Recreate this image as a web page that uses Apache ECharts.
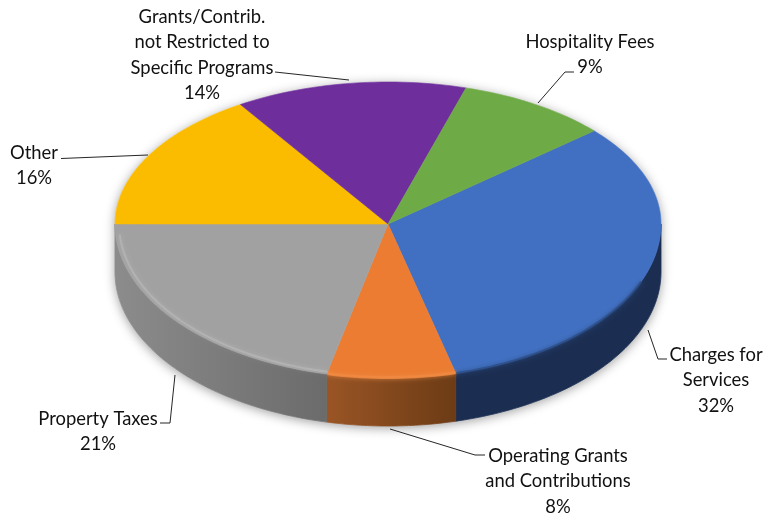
<!DOCTYPE html>
<html><head><meta charset="utf-8">
<style>html,body{margin:0;padding:0;background:#fff}#c{width:765px;height:517px}</style>
<script src="https://cdn.jsdelivr.net/npm/echarts@6/dist/echarts.min.js"></script>
</head><body><div id="c"></div>
<script>
const categories = ['Charges for\nServices', 'Operating Grants\nand Contributions', 'Property Taxes', 'Other', 'Grants/Contrib.\nnot Restricted to\nSpecific Programs', 'Hospitality Fees'];
const shares = [32.4, 7.6, 21.4, 15.9, 13.7, 9];
const topColors = ['#4170c2', '#eb7c31', '#a1a1a1', '#fbbc00', '#6e2f9d', '#6eaa45'];
const wallColors = [['#1b2e52', '#1b2e52'], ['#9a5525', '#6c3b15'], ['#8c8c8c', '#6b6b6b'], ['#a08000', '#a08000'], ['#47206a', '#47206a'], ['#47702c', '#47702c']];
const rimColors = ['#2c4d86', '#f08a42', '#bcbcbc', '#fbbc00', '#6e2f9d', '#6eaa45'];
const rimInset = [1, 0.997, 0.985, 1, 1, 1];
const rimWidth = [2.2, 3, 2, 2, 2, 2];
const rimOpacity = [0.8, 0.8, 0.55, 0.8, 0.8, 0.8];

const pie = { cx: 388, cy: 224, rx: 273, ryUp: 142, ryDown: 154, depth: 48, startDeg: 49 };
const labelLayout = [
  { x: 716, y: 355, leader: [[648, 330], [658, 359], [667, 359]] },
  { x: 558, y: 456, leader: [[390, 429], [475, 455], [485, 455]] },
  { x: 98, y: 419, leader: [[175, 375], [170, 423], [160, 423]] },
  { x: 34, y: 153, leader: [[148, 155], [61, 158.5]] },
  { x: 202, y: 17, leader: [[349, 80], [275, 72]] },
  { x: 590, y: 42, leader: [[538, 103], [565, 72], [574, 72]] }
];
const lineHeight = 25.4;

const total = shares.reduce((a, b) => a + b, 0);
const rad = d => d * Math.PI / 180;
function rim(deg, dy, k) {
  const s = Math.sin(rad(deg)), c = Math.cos(rad(deg));
  k = k || 1;
  return [pie.cx + k * pie.rx * s, pie.cy + dy - k * (c > 0 ? pie.ryUp : pie.ryDown) * c];
}
function arc(a, b, dy, k) {
  const pts = [], n = Math.max(2, Math.ceil((b - a) / 1.5));
  for (let i = 0; i <= n; i++) pts.push(rim(a + (b - a) * i / n, dy, k));
  return pts;
}
function sliceRange(i) {
  let a = pie.startDeg;
  for (let j = 0; j < i; j++) a += shares[j] / total * 360;
  return [a, a + shares[i] / total * 360];
}
function renderShadow() {
  const pts = arc(-90, 90, 0).concat(arc(90, 270, pie.depth));
  return { type: 'polygon', shape: { points: pts },
    style: { fill: '#fff', shadowBlur: 11, shadowColor: 'rgba(0,0,0,0.38)', shadowOffsetY: 2 } };
}
function horizontal(c0, c1) {
  return { type: 'linear', x: 0, y: 0, x2: 1, y2: 0, global: false,
    colorStops: [{ offset: 0, color: c0 }, { offset: 1, color: c1 }] };
}
function renderSlice(params, api) {
  const i = params.dataIndex;
  const [a, b] = sliceRange(i);
  api.value(0);
  const kids = [];
  const lo = Math.max(a, 90), hi = Math.min(b, 270);
  if (hi > lo) {
    const pts = arc(lo, hi, 0).concat(arc(lo, hi, pie.depth).reverse());
    const g = horizontal(wallColors[i][0], wallColors[i][1]);
    kids.push({ type: 'polygon', shape: { points: pts },
      style: { fill: g, stroke: g, lineWidth: 0.8 } });
  }
  kids.push({ type: 'polygon', shape: { points: [[pie.cx, pie.cy]].concat(arc(a, b, 0)) },
    style: { fill: topColors[i], stroke: topColors[i], lineWidth: 0.6 } });
  if (hi > lo) {
    // soft bevel along the front edge; it fades out towards the top of the rim
    const fromDeg = i === 0 ? Math.max(lo, 112) : lo;
    const toDeg = i === 2 ? hi - 4 : hi;
    kids.push({ type: 'polyline', shape: { points: arc(fromDeg, toDeg, 0, rimInset[i]) },
      style: { fill: null, stroke: rimColors[i], lineWidth: rimWidth[i], opacity: rimOpacity[i],
        shadowBlur: 4, shadowColor: rimColors[i] } });
  }
  return { type: 'group', children: kids };
}
function renderLabel(params, api) {
  const i = params.dataIndex, l = labelLayout[i];
  const text = categories[i] + '\n' + Math.round(api.value(0)) + '%';
  return { type: 'group', children: [
    { type: 'polyline', shape: { points: l.leader }, style: { fill: null, stroke: '#262626', lineWidth: 1 } },
    { type: 'text', style: { text, x: l.x, y: l.y - lineHeight / 2, align: 'center', verticalAlign: 'top',
        font: '18.4px Lato', lineHeight, fill: '#111111' } }
  ] };
}
const chart = echarts.init(document.getElementById('c'), null, { width: 765, height: 517 });
chart.setOption({
  animation: false,
  backgroundColor: '#ffffff',
  series: [
    { type: 'custom', name: 'base', coordinateSystem: 'none', silent: true, z: 1, renderItem: renderShadow, data: [total] },
    { type: 'custom', name: 'slices', coordinateSystem: 'none', silent: true, z: 2, renderItem: renderSlice, data: shares },
    { type: 'custom', name: 'labels', coordinateSystem: 'none', silent: true, z: 3, renderItem: renderLabel, data: shares }
  ]
});
</script></body></html>
